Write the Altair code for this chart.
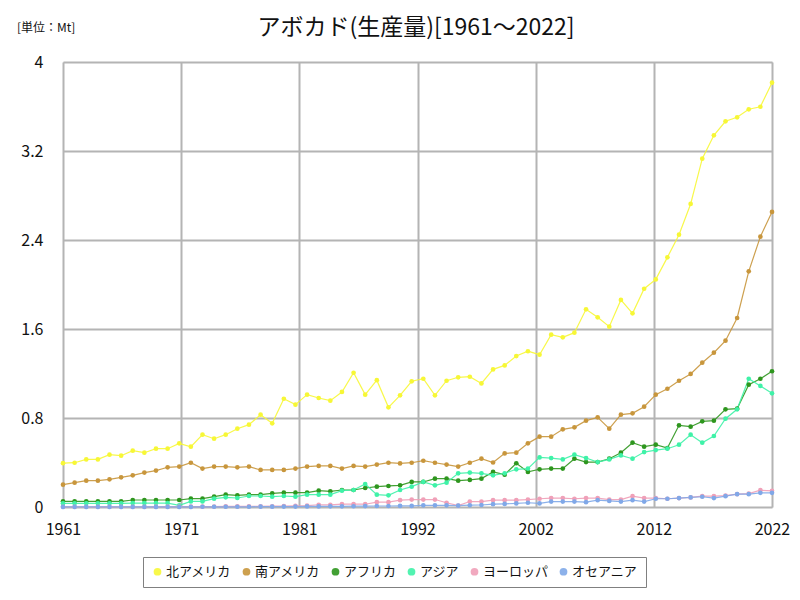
import altair as alt
import pandas as pd

years = list(range(1961, 2023))

series_names = ["北アメリカ", "南アメリカ", "アフリカ", "アジア", "ヨーロッパ", "オセアニア"]
series_colors = ["#f7f736", "#c8963c", "#2e961e", "#3ff2a8", "#f0a0b8", "#80a8e8"]

north_america = [
    0.394, 0.398, 0.428, 0.428, 0.470, 0.461, 0.506, 0.488, 0.524, 0.524,
    0.572, 0.542, 0.650, 0.614, 0.650, 0.704, 0.740, 0.830, 0.752, 0.973,
    0.920, 1.010, 0.980, 0.956, 1.034, 1.207, 1.010, 1.140, 0.896, 1.004,
    1.130, 1.153, 1.004, 1.135, 1.166, 1.171, 1.111, 1.237, 1.273, 1.357,
    1.400, 1.369, 1.549, 1.525, 1.567, 1.777, 1.705, 1.621, 1.861, 1.741,
    1.962, 2.046, 2.244, 2.448, 2.724, 3.131, 3.341, 3.467, 3.503, 3.575,
    3.598, 3.814,
]
south_america = [
    0.201, 0.219, 0.237, 0.237, 0.249, 0.267, 0.285, 0.309, 0.327, 0.357,
    0.363, 0.398, 0.345, 0.363, 0.363, 0.357, 0.363, 0.333, 0.333, 0.333,
    0.345, 0.363, 0.369, 0.369, 0.345, 0.369, 0.363, 0.381, 0.398, 0.392,
    0.398, 0.416, 0.398, 0.381, 0.363, 0.398, 0.434, 0.400, 0.482, 0.488,
    0.572, 0.632, 0.632, 0.698, 0.716, 0.776, 0.806, 0.704, 0.830, 0.842,
    0.902, 1.010, 1.063, 1.135, 1.196, 1.297, 1.387, 1.495, 1.699, 2.118,
    2.430, 2.652,
]
africa = [
    0.051, 0.051, 0.051, 0.051, 0.051, 0.051, 0.063, 0.063, 0.063, 0.063,
    0.063, 0.075, 0.075, 0.093, 0.111, 0.105, 0.111, 0.111, 0.123, 0.129,
    0.129, 0.129, 0.147, 0.141, 0.153, 0.153, 0.171, 0.183, 0.189, 0.195,
    0.225, 0.225, 0.255, 0.255, 0.237, 0.243, 0.255, 0.315, 0.291, 0.393,
    0.315, 0.339, 0.345, 0.345, 0.434, 0.404, 0.404, 0.434, 0.488, 0.578,
    0.542, 0.560, 0.530, 0.734, 0.722, 0.770, 0.776, 0.878, 0.884, 1.100,
    1.153, 1.220,
]
asia = [
    0.033, 0.033, 0.033, 0.033, 0.033, 0.033, 0.035, 0.035, 0.035, 0.035,
    0.015, 0.050, 0.050, 0.075, 0.087, 0.081, 0.099, 0.099, 0.093, 0.099,
    0.093, 0.111, 0.111, 0.111, 0.147, 0.153, 0.207, 0.111, 0.105, 0.153,
    0.183, 0.225, 0.195, 0.219, 0.303, 0.309, 0.303, 0.285, 0.303, 0.339,
    0.345, 0.446, 0.440, 0.428, 0.470, 0.440, 0.404, 0.428, 0.464, 0.434,
    0.494, 0.512, 0.524, 0.560, 0.650, 0.578, 0.638, 0.794, 0.878, 1.153,
    1.088, 1.022,
]
europe = [
    0.002, 0.002, 0.002, 0.002, 0.002, 0.002, 0.002, 0.002, 0.003, 0.003,
    0.003, 0.003, 0.004, 0.004, 0.005, 0.005, 0.006, 0.006, 0.007, 0.008,
    0.010, 0.013, 0.020, 0.020, 0.025, 0.025, 0.025, 0.043, 0.043, 0.061,
    0.067, 0.067, 0.067, 0.038, 0.013, 0.049, 0.049, 0.061, 0.061, 0.061,
    0.067, 0.074, 0.080, 0.080, 0.074, 0.080, 0.080, 0.067, 0.067, 0.097,
    0.080, 0.080, 0.074, 0.080, 0.086, 0.097, 0.097, 0.103, 0.115, 0.121,
    0.151, 0.145,
]
oceania = [
    0.001, 0.001, 0.001, 0.001, 0.001, 0.001, 0.001, 0.001, 0.001, 0.001,
    0.001, 0.001, 0.002, 0.002, 0.002, 0.002, 0.002, 0.003, 0.003, 0.004,
    0.004, 0.005, 0.005, 0.006, 0.006, 0.007, 0.008, 0.009, 0.009, 0.010,
    0.010, 0.015, 0.015, 0.015, 0.012, 0.016, 0.018, 0.025, 0.028, 0.032,
    0.038, 0.032, 0.049, 0.049, 0.049, 0.043, 0.061, 0.055, 0.049, 0.061,
    0.049, 0.074, 0.074, 0.080, 0.086, 0.092, 0.080, 0.097, 0.115, 0.115,
    0.127, 0.127,
]

title_text = "アボカド(生産量)[1961～2022]"
unit_text = "[単位：Mt]"

x_tick_values = [1961 + 61 * k / 6 for k in range(7)]
y_tick_values = [0, 0.8, 1.6, 2.4, 3.2, 4]

all_series = [north_america, south_america, africa, asia, europe, oceania]
rows = []
for name, vals in zip(series_names, all_series):
    for yr, v in zip(years, vals):
        rows.append({"year": yr, "value": v, "region": name})
df = pd.DataFrame(rows)

FONT = "Noto Sans CJK JP"

color = alt.Color(
    "region:N",
    scale=alt.Scale(domain=series_names, range=series_colors),
    sort=series_names,
    legend=alt.Legend(
        title=None,
        orient="none",
        legendX=80,
        legendY=495,
        direction="horizontal",
        symbolType="circle",
        symbolSize=60,
        symbolStrokeWidth=0,
        labelFont=FONT,
        labelFontSize=13,
        labelColor="#111111",
        columnPadding=8,
        padding=8,
        strokeColor="#808080",
        fillColor="white",
        labelOffset=2,
    ),
)

x = alt.X(
    "year:Q",
    scale=alt.Scale(domain=[1961, 2022], nice=False, zero=False),
    axis=alt.Axis(
        title=None,
        values=x_tick_values,
        labelExpr="'' + round(datum.value)",
        labelFont=FONT,
        labelFontSize=16,
        labelColor="#111111",
        labelPadding=14,
        grid=True,
        gridColor="#b4b4b4",
        gridWidth=2,
        ticks=False,
        domain=False,
        labelFlush=False,
    ),
)
y = alt.Y(
    "value:Q",
    scale=alt.Scale(domain=[0, 4], nice=False),
    axis=alt.Axis(
        title=None,
        values=y_tick_values,
        format="~g",
        labelFont=FONT,
        labelFontSize=16,
        labelColor="#111111",
        labelPadding=20,
        grid=True,
        gridColor="#b4b4b4",
        gridWidth=2,
        ticks=False,
        domain=False,
    ),
)

base = alt.Chart(df)
lines = base.mark_line(strokeWidth=1.2, opacity=0.9).encode(x=x, y=y, color=color)
points = base.mark_circle(size=22, opacity=1).encode(x=x, y=y, color=color)

unit = alt.Chart(pd.DataFrame({"t": [unit_text]})).mark_text(
    font=FONT, fontSize=12, align="left", baseline="middle", color="#111111"
).encode(text="t:N", x=alt.value(-46), y=alt.value(-34))

title = alt.Chart(pd.DataFrame({"t": [title_text]})).mark_text(
    font=FONT, fontSize=23, align="center", baseline="middle", color="#111111"
).encode(text="t:N", x=alt.value(353), y=alt.value(-34))

chart = (
    alt.layer(lines, points, unit, title)
    .properties(
        width=709,
        height=445,
        padding={"left": 55, "top": 54, "right": 20, "bottom": 85},
        autosize=alt.AutoSizeParams(type="none"),
    )
    .configure_view(stroke="#808080", strokeWidth=2)
    .configure(background="white")
)

chart.save("out.html", embed_options={"renderer": "svg", "actions": False})
